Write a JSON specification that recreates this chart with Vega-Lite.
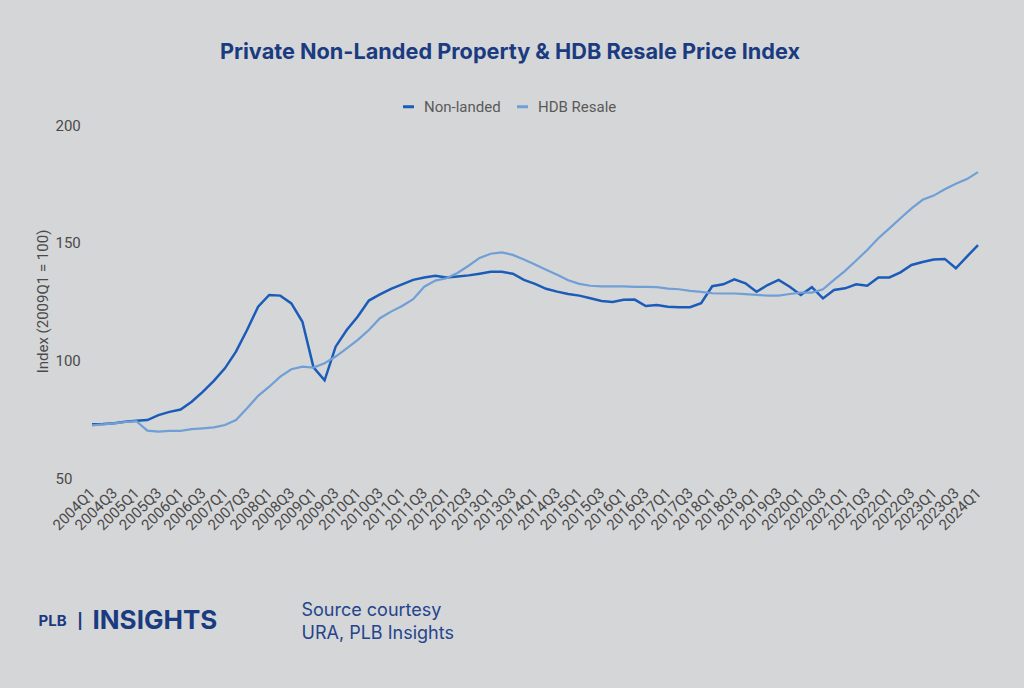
{
  "$schema": "https://vega.github.io/schema/vega-lite/v6.json",
  "width": 886,
  "height": 353,
  "autosize": {"type": "none"},
  "padding": {"left": 92, "top": 125, "right": 46, "bottom": 210},
  "background": "#d5d6d8",
  "config": {
    "view": {"stroke": null},
    "font": "Roboto",
    "axis": {"grid": false, "domain": false, "ticks": false, "tickSize": 0}
  },
  "title": {
    "text": "Private Non-Landed Property & HDB Resale Price Index",
    "font": "Inter",
    "fontSize": 21.7,
    "fontWeight": "bold",
    "color": "#1b3b80",
    "anchor": "middle",
    "dx": -25,
    "offset": 35
  },
  "data": {
    "values": [
      {"q": "2004Q1", "nonlanded": 72.8, "hdb": 72.4},
      {"q": "2004Q2", "nonlanded": 72.9, "hdb": 72.8},
      {"q": "2004Q3", "nonlanded": 73.3, "hdb": 73.2},
      {"q": "2004Q4", "nonlanded": 73.9, "hdb": 73.8},
      {"q": "2005Q1", "nonlanded": 74.3, "hdb": 74.2},
      {"q": "2005Q2", "nonlanded": 74.6, "hdb": 70.1},
      {"q": "2005Q3", "nonlanded": 76.7, "hdb": 69.7},
      {"q": "2005Q4", "nonlanded": 78.1, "hdb": 70.0},
      {"q": "2006Q1", "nonlanded": 79.1, "hdb": 70.0},
      {"q": "2006Q2", "nonlanded": 82.4, "hdb": 70.8},
      {"q": "2006Q3", "nonlanded": 86.6, "hdb": 71.1},
      {"q": "2006Q4", "nonlanded": 91.3, "hdb": 71.5},
      {"q": "2007Q1", "nonlanded": 96.6, "hdb": 72.5},
      {"q": "2007Q2", "nonlanded": 103.7, "hdb": 74.6},
      {"q": "2007Q3", "nonlanded": 112.9, "hdb": 79.6},
      {"q": "2007Q4", "nonlanded": 122.8, "hdb": 84.9},
      {"q": "2008Q1", "nonlanded": 127.8, "hdb": 88.8},
      {"q": "2008Q2", "nonlanded": 127.5, "hdb": 93.1},
      {"q": "2008Q3", "nonlanded": 124.2, "hdb": 96.2},
      {"q": "2008Q4", "nonlanded": 116.4, "hdb": 97.3},
      {"q": "2009Q1", "nonlanded": 97.0, "hdb": 96.9},
      {"q": "2009Q2", "nonlanded": 91.5, "hdb": 98.8},
      {"q": "2009Q3", "nonlanded": 105.8, "hdb": 101.6},
      {"q": "2009Q4", "nonlanded": 112.9, "hdb": 105.1},
      {"q": "2010Q1", "nonlanded": 118.6, "hdb": 108.7},
      {"q": "2010Q2", "nonlanded": 125.4, "hdb": 112.9},
      {"q": "2010Q3", "nonlanded": 128.0, "hdb": 117.9},
      {"q": "2010Q4", "nonlanded": 130.4, "hdb": 120.7},
      {"q": "2011Q1", "nonlanded": 132.3, "hdb": 123.1},
      {"q": "2011Q2", "nonlanded": 134.2, "hdb": 126.0},
      {"q": "2011Q3", "nonlanded": 135.2, "hdb": 131.3},
      {"q": "2011Q4", "nonlanded": 135.9, "hdb": 133.9},
      {"q": "2012Q1", "nonlanded": 135.2, "hdb": 134.9},
      {"q": "2012Q2", "nonlanded": 135.6, "hdb": 137.1},
      {"q": "2012Q3", "nonlanded": 136.1, "hdb": 140.2},
      {"q": "2012Q4", "nonlanded": 136.8, "hdb": 143.5},
      {"q": "2013Q1", "nonlanded": 137.6, "hdb": 145.3},
      {"q": "2013Q2", "nonlanded": 137.6, "hdb": 145.9},
      {"q": "2013Q3", "nonlanded": 136.8, "hdb": 144.8},
      {"q": "2013Q4", "nonlanded": 134.2, "hdb": 142.8},
      {"q": "2014Q1", "nonlanded": 132.5, "hdb": 140.7},
      {"q": "2014Q2", "nonlanded": 130.4, "hdb": 138.5},
      {"q": "2014Q3", "nonlanded": 129.2, "hdb": 136.4},
      {"q": "2014Q4", "nonlanded": 128.2, "hdb": 134.0},
      {"q": "2015Q1", "nonlanded": 127.5, "hdb": 132.5},
      {"q": "2015Q2", "nonlanded": 126.4, "hdb": 131.7},
      {"q": "2015Q3", "nonlanded": 125.2, "hdb": 131.4},
      {"q": "2015Q4", "nonlanded": 124.8, "hdb": 131.4},
      {"q": "2016Q1", "nonlanded": 125.7, "hdb": 131.4},
      {"q": "2016Q2", "nonlanded": 125.8, "hdb": 131.2},
      {"q": "2016Q3", "nonlanded": 123.1, "hdb": 131.2},
      {"q": "2016Q4", "nonlanded": 123.5, "hdb": 131.1},
      {"q": "2017Q1", "nonlanded": 122.8, "hdb": 130.5},
      {"q": "2017Q2", "nonlanded": 122.6, "hdb": 130.2},
      {"q": "2017Q3", "nonlanded": 122.6, "hdb": 129.5},
      {"q": "2017Q4", "nonlanded": 124.3, "hdb": 129.1},
      {"q": "2018Q1", "nonlanded": 131.5, "hdb": 128.5},
      {"q": "2018Q2", "nonlanded": 132.3, "hdb": 128.4},
      {"q": "2018Q3", "nonlanded": 134.4, "hdb": 128.4},
      {"q": "2018Q4", "nonlanded": 132.7, "hdb": 128.1},
      {"q": "2019Q1", "nonlanded": 129.1, "hdb": 127.8},
      {"q": "2019Q2", "nonlanded": 132.0, "hdb": 127.5},
      {"q": "2019Q3", "nonlanded": 134.2, "hdb": 127.5},
      {"q": "2019Q4", "nonlanded": 131.3, "hdb": 128.2},
      {"q": "2020Q1", "nonlanded": 127.8, "hdb": 128.8},
      {"q": "2020Q2", "nonlanded": 131.1, "hdb": 128.8},
      {"q": "2020Q3", "nonlanded": 126.3, "hdb": 130.2},
      {"q": "2020Q4", "nonlanded": 129.9, "hdb": 134.2},
      {"q": "2021Q1", "nonlanded": 130.6, "hdb": 138.0},
      {"q": "2021Q2", "nonlanded": 132.3, "hdb": 142.4},
      {"q": "2021Q3", "nonlanded": 131.7, "hdb": 146.9},
      {"q": "2021Q4", "nonlanded": 135.2, "hdb": 151.9},
      {"q": "2022Q1", "nonlanded": 135.2, "hdb": 156.1},
      {"q": "2022Q2", "nonlanded": 137.4, "hdb": 160.4},
      {"q": "2022Q3", "nonlanded": 140.5, "hdb": 164.6},
      {"q": "2022Q4", "nonlanded": 141.8, "hdb": 168.2},
      {"q": "2023Q1", "nonlanded": 142.8, "hdb": 170.0},
      {"q": "2023Q2", "nonlanded": 143.1, "hdb": 172.7},
      {"q": "2023Q3", "nonlanded": 139.1, "hdb": 175.0},
      {"q": "2023Q4", "nonlanded": 144.1, "hdb": 177.0},
      {"q": "2024Q1", "nonlanded": 149.0, "hdb": 180.0}
    ]
  },
  "layer": [
    {
      "mark": {"type": "line", "strokeWidth": 2.5},
      "encoding": {
        "x": {
          "field": "q", "type": "ordinal", "sort": null,
          "scale": {"type": "point", "padding": 0},
          "axis": {
            "labelExpr": "indexof(datum.value, 'Q1') > 0 || indexof(datum.value, 'Q3') > 0 ? datum.value : ''",
            "labelAngle": -45,
            "labelAlign": "right",
            "labelBaseline": "middle",
            "labelPadding": 12,
            "labelOverlap": false,
            "labelFontSize": 15,
            "labelColor": "#4a4a4a",
            "labelFont": "Roboto",
            "title": ["Source courtesy", "URA, PLB Insights"],
            "titleFont": "Inter",
            "titleFontSize": 18,
            "titleFontWeight": "normal",
            "titleColor": "#24448c",
            "titleX": 209,
            "titleY": 137,
            "titleAlign": "left",
            "titleBaseline": "alphabetic",
            "titleLineHeight": 23
          }
        },
        "y": {
          "field": "nonlanded", "type": "quantitative",
          "scale": {"domain": [50, 200], "nice": false, "zero": false},
          "axis": {
            "values": [50, 100, 150, 200],
            "labelAlign": "left",
            "labelPadding": 37,
            "labelFontSize": 15,
            "labelColor": "#4a4a4a",
            "title": "Index (2009Q1 = 100)",
            "titleFont": "Roboto",
            "titleFontSize": 15,
            "titleFontWeight": "normal",
            "titleColor": "#4a4a4a",
            "titleX": -50,
            "titleY": 176,
            "titleAngle": -90,
            "titleAlign": "center",
            "titleBaseline": "middle"
          }
        },
        "color": {
          "datum": "Non-landed", "type": "nominal",
          "scale": {"domain": ["Non-landed", "HDB Resale"], "range": ["#1b5cb8", "#6f9fd6"]},
          "legend": {
            "title": null,
            "orient": "none",
            "legendX": 309,
            "legendY": -26,
            "direction": "horizontal",
            "symbolType": "stroke",
            "symbolStrokeWidth": 3,
            "symbolSize": 120,
            "labelFontSize": 15,
            "labelColor": "#5a5a5a",
            "labelFont": "Roboto",
            "columnPadding": 10,
            "labelOffset": 8
          }
        }
      }
    },
    {
      "mark": {"type": "line", "strokeWidth": 2.2},
      "encoding": {
        "x": {
          "field": "q", "type": "ordinal", "sort": null,
          "scale": {"type": "point", "padding": 0},
          "axis": {
            "orient": "top",
            "labels": false,
            "title": "PLB\u00a0\u00a0\u00a0|",
            "titleFont": "Inter",
            "titleFontSize": 15,
            "titleFontWeight": "bold",
            "titleColor": "#1b3b80",
            "titleX": -54,
            "titleY": 495,
            "titleAlign": "left",
            "titleBaseline": "middle"
          }
        },
        "y": {
          "field": "hdb", "type": "quantitative",
          "scale": {"domain": [50, 200], "nice": false, "zero": false},
          "axis": {
            "orient": "right",
            "labels": false,
            "title": "INSIGHTS",
            "titleFont": "Inter",
            "titleFontSize": 26,
            "titleFontWeight": "bold",
            "titleColor": "#1b3b80",
            "titleX": -886,
            "titleY": 495,
            "titleAngle": 0,
            "titleAlign": "left",
            "titleBaseline": "middle"
          }
        },
        "color": {"datum": "HDB Resale", "type": "nominal"}
      }
    }
  ],
  "resolve": {"scale": {"x": "independent", "y": "independent"}}
}
